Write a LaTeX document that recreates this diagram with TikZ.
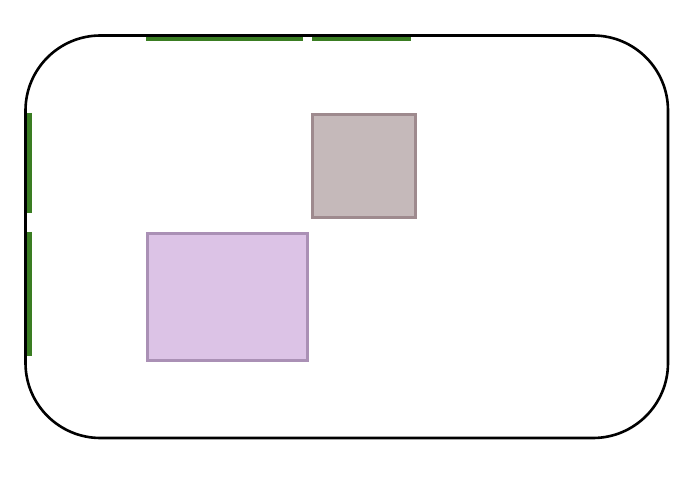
\documentclass[tikz,border=0pt]{standalone}
\definecolor{grn}{HTML}{3A7D22}
\definecolor{brfill}{HTML}{C5B9BA}
\definecolor{brline}{HTML}{9E8A8E}
\definecolor{pufill}{HTML}{DCC3E6}
\definecolor{puline}{HTML}{AA90B5}
\tikzset{
  frame/.style={draw=black,line width=2.6pt,rounded corners=75pt},
  greenbar/.style={draw=grn,line width=4.2pt},
  boxA/.style={draw=brline,fill=brfill,line width=3pt,minimum width=103pt,minimum height=103pt,inner sep=0pt,outer sep=0pt,anchor=north west},
  boxB/.style={draw=puline,fill=pufill,line width=3pt,minimum width=160pt,minimum height=127pt,inner sep=0pt,outer sep=0pt,anchor=north west},
}
\begin{document}
\begin{tikzpicture}[x=1pt,y=1pt]
\useasboundingbox (0,0) rectangle (694,488);
\fill[white] (0,0) rectangle (694,488);
% green bars
\coordinate (t1a) at (146,449); \coordinate (t1b) at (303,449);
\coordinate (t2a) at (312,449); \coordinate (t2b) at (411,449);
\coordinate (l1a) at (29.5,375); \coordinate (l1b) at (29.5,275);
\coordinate (l2a) at (29.5,256); \coordinate (l2b) at (29.5,132);
\draw[greenbar] (t1a) -- (t1b);
\draw[greenbar] (t2a) -- (t2b);
\draw[greenbar,line width=5pt] (l1a) -- (l1b);
\draw[greenbar,line width=5pt] (l2a) -- (l2b);
% frame
\draw[frame] (25.5,50) rectangle (668,452.5);
% boxes
\node[boxA] (brown) at (312.5,373.5) {};
\node[boxB] (purple) at (147.5,254.5) {};
\end{tikzpicture}
\end{document}
